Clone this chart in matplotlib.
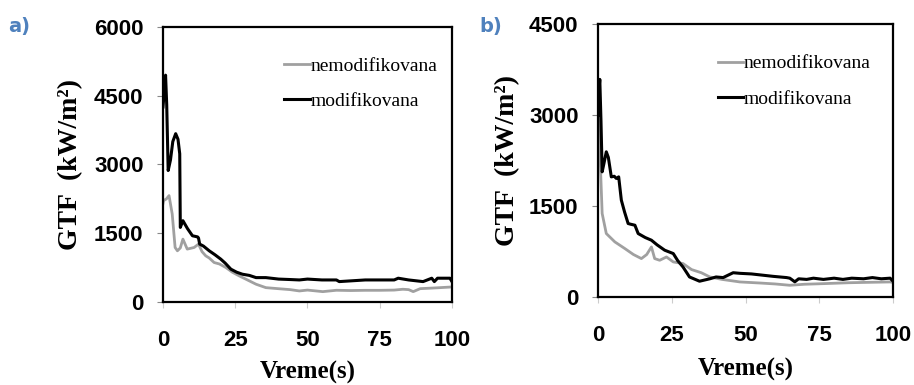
import matplotlib
matplotlib.use('Agg')
import matplotlib.pyplot as plt

# ---- data (time in s, GTF in kW/m2) ----
a_gray_t = [0, 0.2, 1.2, 2.1, 3.2, 4.2, 5.0, 6.0, 6.9, 8.4, 9.5, 10.8, 12.3, 13.5, 14.8,
            16.0, 17.7, 19.5, 21.8, 24.0, 26.4, 29.9, 32.2, 35.6, 40, 44, 47.2, 50, 55.3,
            60, 65, 70, 75, 80, 83, 85, 86.6, 89, 92, 95, 100]
a_gray_v = [2150, 2211, 2250, 2321, 1920, 1190, 1117, 1180, 1372, 1154, 1170, 1190, 1263, 1100, 1007,
            960, 861, 830, 751, 650, 569, 460, 388, 313, 290, 270, 241, 260, 226,
            256, 250, 255, 255, 260, 278, 270, 226, 291, 300, 310, 328]

a_black_t = [0, 0.2, 0.9, 1.3, 1.8, 2.6, 3.4, 4.4, 5.2, 5.8, 6.0, 6.9, 8.5, 10.2, 12.0, 12.3,
             12.7, 14, 16.0, 18, 20.0, 21.5, 23.5, 25.5, 27.5, 29.9, 32.2, 35.6, 40, 44, 47.2,
             50, 55, 60, 61, 70, 80, 81.4, 85, 90, 93, 93.9, 95, 99.3, 100]
a_black_v = [4255, 4400, 4949, 4300, 2868, 3100, 3500, 3672, 3550, 3234, 1627, 1774, 1600, 1445, 1420, 1395,
             1263, 1220, 1117, 1030, 935, 850, 716, 650, 606, 580, 532, 532, 500, 490, 481,
             500, 481, 481, 445, 481, 481, 519, 481, 445, 519, 445, 519, 519, 445]

b_gray_t = [0, 0.2, 0.9, 1.4, 2.8, 5.7, 9.1, 12, 14.7, 16.5, 18.1, 19.2, 20.9, 23.2, 25.5,
            28.8, 31.7, 35, 37.9, 42, 48.1, 55, 60, 65, 70, 76.4, 85, 90, 99, 100]
b_gray_v = [3100, 3026, 2036, 1376, 1046, 908, 798, 700, 633, 700, 825, 633, 605, 660, 578,
            551, 452, 400, 330, 290, 248, 230, 215, 193, 210, 220, 235, 240, 248, 240]

b_black_t = [0, 0.3, 0.6, 1.0, 1.4, 2.0, 2.8, 3.5, 4.5, 5.5, 6.2, 7.0, 7.9, 9, 10.2, 11, 12.5,
             13.6, 16, 18.1, 20, 22.6, 25.5, 27, 28.8, 31, 34.4, 37.9, 40, 42.4, 45.8, 48.1,
             52, 59.4, 63.9, 65, 66.7, 68, 70.7, 73, 76.4, 80, 83, 86, 90, 93, 96, 99, 100]
b_black_v = [3000, 3400, 3587, 2900, 2063, 2200, 2393, 2300, 1980, 1990, 1954, 1980, 1596, 1400, 1211, 1200, 1183,
             1046, 980, 936, 860, 771, 716, 600, 495, 330, 260, 300, 330, 320, 400, 390,
             380, 340, 320, 310, 250, 300, 290, 310, 290, 310, 290, 310, 300, 320, 300, 310, 260]

x_ticks = [0, 25, 50, 75, 100]
a_yticks = [0, 1500, 3000, 4500, 6000]
b_yticks = [0, 1500, 3000, 4500]

LABELS = ['nemodifikovana', 'modifikovana']
GRAY = '#a0a0a0'
SERIF = 'Liberation Serif'
SANS = 'Liberation Sans'

fig = plt.figure(figsize=(9.14, 3.85), dpi=100)
ax_a = fig.add_axes([0.1783, 0.2156, 0.3162, 0.7143])
ax_b = fig.add_axes([0.6543, 0.2286, 0.3228, 0.7091])


def style(ax, yticks, leg_anchor, ylab_x, xlab_y):
    ax.set_xlim(0, 100)
    ax.set_ylim(0, yticks[-1])
    ax.set_xticks(x_ticks)
    ax.set_yticks(yticks)
    for s in ax.spines.values():
        s.set_linewidth(1.6)
        s.set_color('black')
    ax.tick_params(axis='y', length=4, width=0.8, color='#888888', pad=10)
    ax.tick_params(axis='x', length=4, width=0.8, color='#cccccc', pad=16)
    for lab in ax.get_xticklabels() + ax.get_yticklabels():
        lab.set_fontfamily(SANS)
        lab.set_fontweight('bold')
        lab.set_fontsize(16)
    ax.set_ylabel('GTF  (kW/m²)', fontfamily=SERIF, fontweight='bold', fontsize=20, va='center')
    ax.yaxis.set_label_coords(ylab_x, 0.5)
    ax.set_xlabel('Vreme(s)', fontfamily=SERIF, fontweight='bold', fontsize=18, va='center')
    ax.xaxis.set_label_coords(0.5, xlab_y)
    ax.legend(loc='upper left', bbox_to_anchor=leg_anchor, frameon=False,
              prop={'family': SERIF, 'size': 14}, handlelength=1.3, handletextpad=0.05,
              labelspacing=0.9, borderpad=0, borderaxespad=0)


ax_a.plot(a_gray_t, a_gray_v, color=GRAY, lw=2.0, label=LABELS[0])
ax_a.plot(a_black_t, a_black_v, color='black', lw=2.2, label=LABELS[1])
style(ax_a, a_yticks, (0.42, 0.89), -0.318, -0.255)

ax_b.plot(b_gray_t, b_gray_v, color=GRAY, lw=2.0, label=LABELS[0])
ax_b.plot(b_black_t, b_black_v, color='black', lw=2.2, label=LABELS[1])
style(ax_b, b_yticks, (0.405, 0.887), -0.308, -0.267)

fig.text(0.021, 0.93, 'a)', color='#4f81bd', fontsize=14, fontweight='bold', ha='center', va='center')
fig.text(0.537, 0.93, 'b)', color='#4f81bd', fontsize=14, fontweight='bold', ha='center', va='center')

fig.savefig('out.png', dpi=100)
